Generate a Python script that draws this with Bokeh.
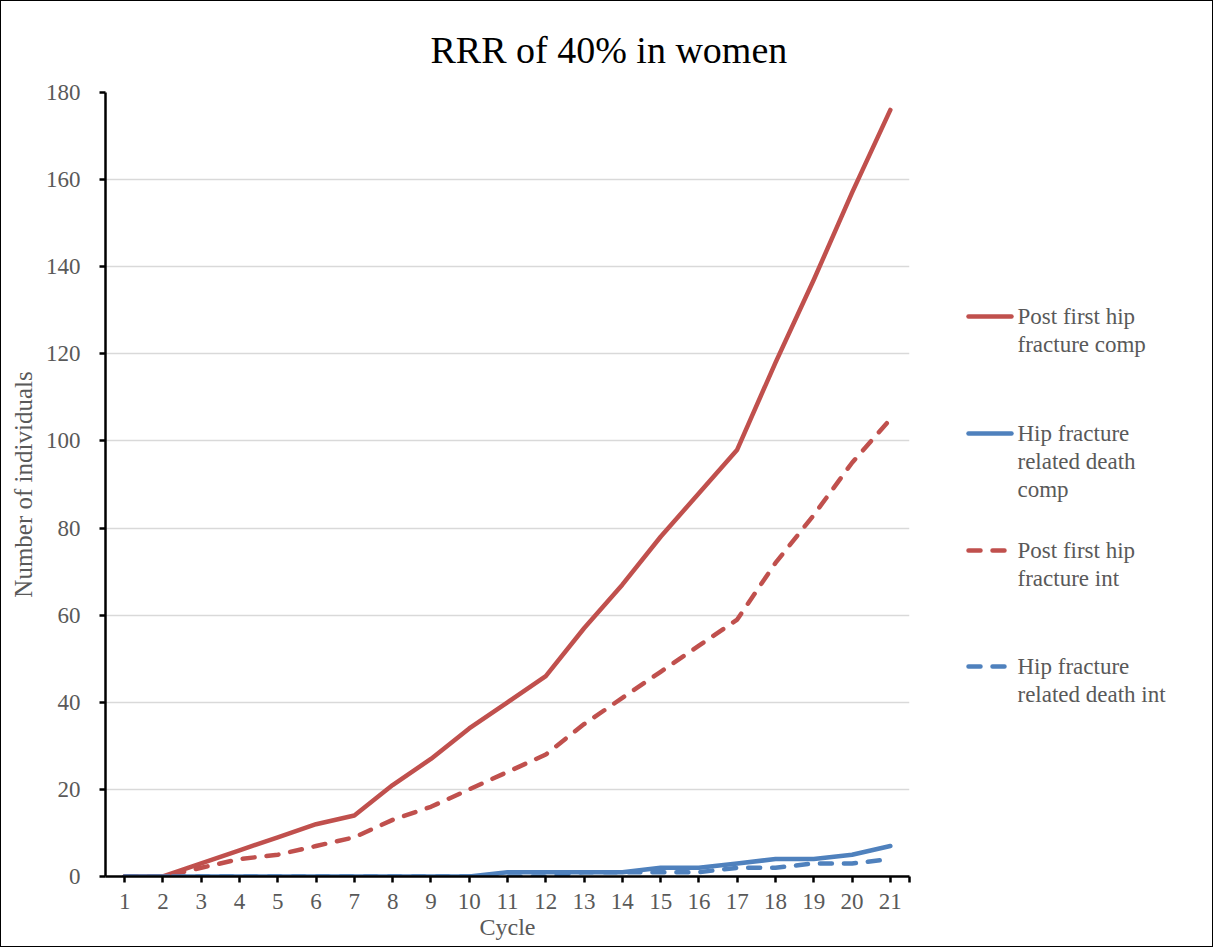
from bokeh.plotting import figure
from bokeh.models import Range1d, FixedTicker
from bokeh.layouts import row
from bokeh.embed import file_html
from bokeh.resources import INLINE
from bokeh.core.properties import value

# ---- data -------------------------------------------------------------
cycles = list(range(1, 22))
post_hip_comp = [0, 0, 3, 6, 9, 12, 14, 21, 27, 34, 40, 46, 57, 67, 78, 88, 98, 118, 137, 157, 176]
death_comp = [0, 0, 0, 0, 0, 0, 0, 0, 0, 0, 1, 1, 1, 1, 2, 2, 3, 4, 4, 5, 7]
post_hip_int = [0, 0, 2, 4, 5, 7, 9, 13, 16, 20, 24, 28, 35, 41, 47, 53, 59, 72, 83, 95, 105]
death_int = [0, 0, 0, 0, 0, 0, 0, 0, 0, 0, 0, 0, 1, 1, 1, 1, 2, 2, 3, 3, 4]

series_names = [
    "Post first hip\nfracture comp",
    "Hip fracture\nrelated death\ncomp",
    "Post first hip\nfracture int",
    "Hip fracture\nrelated death int",
]
y_ticks = [0, 20, 40, 60, 80, 100, 120, 140, 160, 180]

RED = "#C0504D"
BLUE = "#4F81BD"
GREY_TEXT = "#595959"
FONT = "Liberation Serif"
DASH = "12 12"
LW = 4.5

series = [
    (post_hip_comp, RED, "solid"),
    (death_comp, BLUE, "solid"),
    (post_hip_int, RED, DASH),
    (death_int, BLUE, DASH),
]

# ---- main chart -------------------------------------------------------
p = figure(
    width=920, height=945,
    x_range=Range1d(0.5, 21.5), y_range=Range1d(0, 180),
    output_backend="svg", toolbar_location=None,
    min_border_left=104, min_border_right=12,
    min_border_top=91, min_border_bottom=70,
)
p.outline_line_color = None
p.background_fill_color = "white"
p.border_fill_color = "white"

p.title.text = "RRR of 40% in women"
p.title.align = "left"
p.title.offset = 325
p.title.standoff = 44
p.title.text_font = FONT
p.title.text_font_size = "38px"
p.title.text_font_style = "normal"
p.title.text_color = "#000000"

p.xgrid.visible = False
p.ygrid.grid_line_color = "#D9D9D9"
p.ygrid.grid_line_width = 1.5
p.ygrid.ticker = FixedTicker(ticks=y_ticks)

xa = p.xaxis[0]
xa.ticker = FixedTicker(ticks=cycles + [21.5])
xa.major_label_overrides = {21.5: ""}
xa.axis_label = "Cycle"
ya = p.yaxis[0]
ya.ticker = FixedTicker(ticks=y_ticks)
ya.axis_label = "Number of individuals"

for ax in (xa, ya):
    ax.axis_line_color = "black"
    ax.axis_line_width = 2.5
    ax.major_tick_line_color = "black"
    ax.major_tick_line_width = 2.5
    ax.major_tick_out = 6
    ax.major_tick_in = 0
    ax.minor_tick_line_color = None
    ax.major_label_text_font = FONT
    ax.major_label_text_font_size = "23px"
    ax.major_label_text_color = GREY_TEXT
    ax.axis_label_text_font = FONT
    ax.axis_label_text_font_style = "normal"
    ax.axis_label_text_color = GREY_TEXT

xa.axis_label_text_font_size = "24px"
ya.axis_label_text_font_size = "25px"
xa.major_label_standoff = 11
xa.axis_label_standoff = 2
ya.major_label_standoff = 19
ya.axis_label_standoff = 6

for ys, color, dash in series:
    p.line(cycles, ys, line_color=color, line_width=LW, line_dash=dash,
           line_cap="round", line_join="round")

# ---- legend panel (ranges expressed in page pixels) -------------------
leg = figure(
    width=291, height=945,
    x_range=Range1d(921, 1212), y_range=Range1d(876, 92),
    output_backend="svg", toolbar_location=None,
    min_border=0,
)
leg.axis.visible = False
leg.grid.visible = False
leg.outline_line_color = None
leg.background_fill_color = "white"
leg.border_fill_color = "white"

entry_tops = [316, 433, 550, 666]
line_step = 28
for (ys, color, dash), name, top in zip(series, series_names, entry_tops):
    leg.line([968, 1011], [top, top], line_color=color, line_width=LW,
             line_dash=dash, line_cap="round")
    parts = name.split("\n")
    leg.text(x=[1017] * len(parts), y=[top + i * line_step for i in range(len(parts))],
             text=parts, text_font=value(FONT), text_font_size="23px",
             text_color=GREY_TEXT, text_baseline="middle", text_align="left")

layout = row(p, leg, styles={"border": "1px solid black", "background-color": "white"})

open("out.html", "w").write(file_html(layout, INLINE))
